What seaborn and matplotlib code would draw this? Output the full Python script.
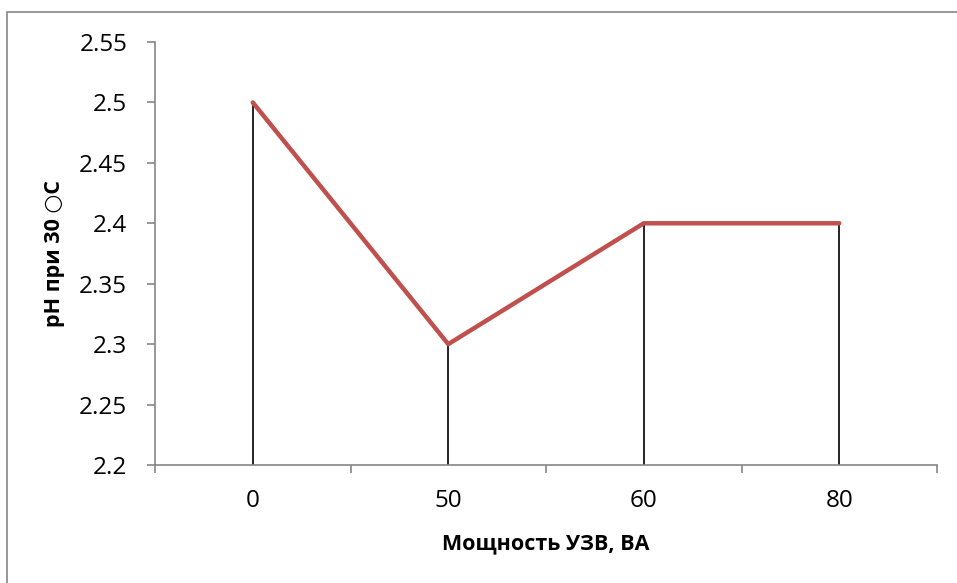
import numpy as np
import pandas as pd
import matplotlib
matplotlib.use("Agg")
import matplotlib.pyplot as plt
from matplotlib.patches import Rectangle
from matplotlib.ticker import FixedLocator, MultipleLocator
import seaborn as sns

# data
power = ["0", "50", "60", "80"]
ph = [2.5, 2.3, 2.4, 2.4]

sns.set_style("white")
plt.rcParams['font.family'] = ['Open Sans', 'DejaVu Sans']
plt.rcParams['text.color'] = 'black'
plt.rcParams['axes.labelcolor'] = 'black'
plt.rcParams['xtick.labelcolor'] = 'black'
plt.rcParams['ytick.labelcolor'] = 'black'

df = pd.DataFrame({'power': power, 'ph': ph})

fig = plt.figure(figsize=(9.57, 5.83), dpi=100)
ax = fig.add_axes([155 / 957, 1 - 465 / 583, 782 / 957, 423 / 583])

# outer chart border (only left/top fall inside the picture)
fig.patches.append(Rectangle((7.5 / 957, -0.1), 1.2, 1 - 12.5 / 583 + 0.1,
                             transform=fig.transFigure, fill=False,
                             edgecolor='#868686', linewidth=1.2))

# drop lines
pos = np.arange(len(power))
ax.vlines(pos, 2.2, ph, color='black', linewidth=1.2, zorder=2)

sns.lineplot(data=df, x='power', y='ph', ax=ax, color='#C0504D',
             linewidth=3.2, sort=False, zorder=3)

ax.set_xlim(-0.5, len(power) - 0.5)
ax.set_ylim(2.2, 2.55)
ax.yaxis.set_major_locator(MultipleLocator(0.05))
ax.set_yticklabels([f"{v:g}" for v in np.round(ax.get_yticks(), 2)])

ax.set_xticks(pos)
ax.set_xticklabels(power)
ax.xaxis.set_minor_locator(FixedLocator(np.arange(-0.5, len(power), 1.0)))

for side in ['top', 'right']:
    ax.spines[side].set_visible(False)
for side in ['left', 'bottom']:
    ax.spines[side].set_color('#868686')
    ax.spines[side].set_linewidth(1.2)

ax.tick_params(axis='y', which='major', direction='out', length=6, width=1.2,
               color='#868686', labelsize=17.5, pad=14, left=True)
ax.tick_params(axis='x', which='major', length=0, labelsize=17.5, pad=17)
ax.tick_params(axis='x', which='minor', direction='out', length=6, width=1.2,
               color='#868686', bottom=True)

ax.set_xlabel('Мощность УЗВ, ВА', fontsize=15.5, fontweight='bold', labelpad=15)
ax.set_ylabel('pH при 30 ○C', fontsize=15.5, fontweight='bold', labelpad=10)

fig.savefig('out.png', dpi=100)
